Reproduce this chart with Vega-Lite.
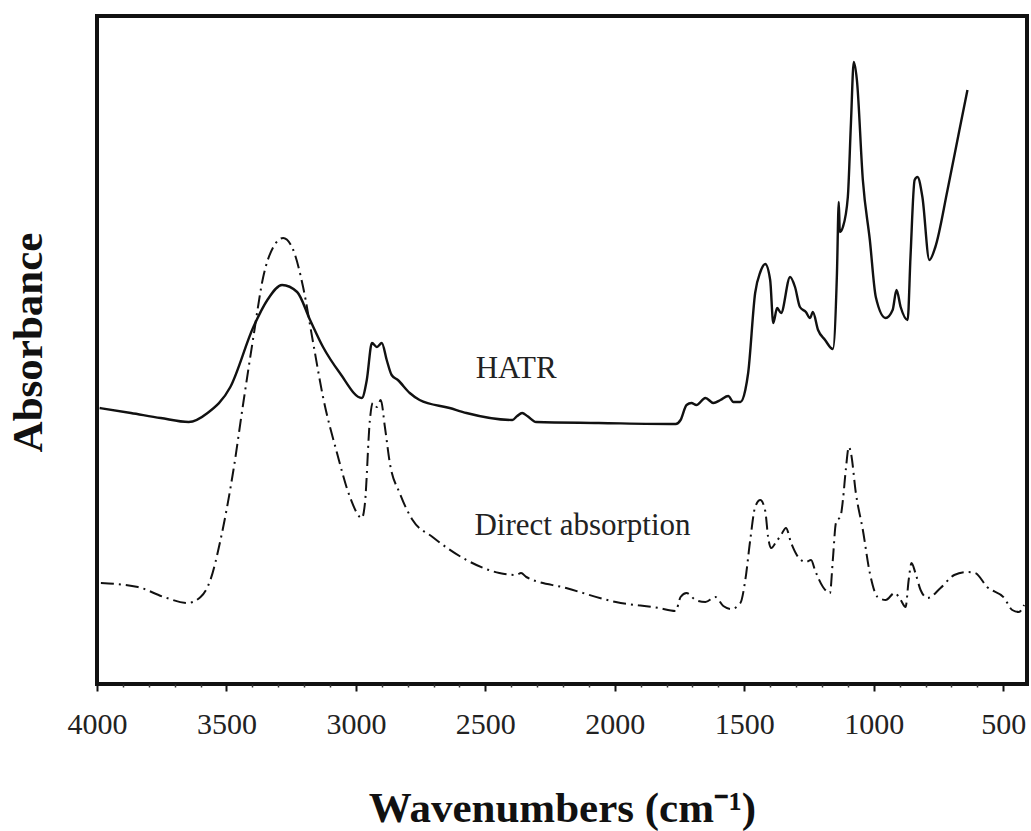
{
  "$schema": "https://vega.github.io/schema/vega-lite/v6.json",
  "width": 930,
  "height": 668,
  "autosize": {"type": "none"},
  "padding": {"left": 97, "top": 16, "right": 4, "bottom": 147},
  "background": "white",
  "config": {
    "view": {"stroke": "#111", "strokeWidth": 4},
    "font": "Liberation Serif"
  },
  "resolve": {"axis": {"x": "independent"}},
  "datasets": {
    "hatr": [
      {"wn": 3990, "a": 276}, {"wn": 3869, "a": 271}, {"wn": 3754, "a": 266}, {"wn": 3646, "a": 262},
      {"wn": 3573, "a": 271}, {"wn": 3485, "a": 297}, {"wn": 3396, "a": 357}, {"wn": 3342, "a": 384},
      {"wn": 3285, "a": 399}, {"wn": 3227, "a": 392}, {"wn": 3177, "a": 364}, {"wn": 3127, "a": 337},
      {"wn": 3062, "a": 311}, {"wn": 2977, "a": 286}, {"wn": 2958, "a": 304}, {"wn": 2938, "a": 341},
      {"wn": 2919, "a": 337}, {"wn": 2900, "a": 341}, {"wn": 2881, "a": 324}, {"wn": 2862, "a": 309},
      {"wn": 2838, "a": 304}, {"wn": 2792, "a": 291}, {"wn": 2754, "a": 284}, {"wn": 2638, "a": 276},
      {"wn": 2573, "a": 271}, {"wn": 2396, "a": 264}, {"wn": 2377, "a": 268}, {"wn": 2358, "a": 271},
      {"wn": 2338, "a": 268}, {"wn": 2304, "a": 262}, {"wn": 2062, "a": 261}, {"wn": 1765, "a": 260},
      {"wn": 1746, "a": 264}, {"wn": 1723, "a": 279}, {"wn": 1704, "a": 281}, {"wn": 1685, "a": 279},
      {"wn": 1650, "a": 286}, {"wn": 1619, "a": 281}, {"wn": 1592, "a": 284}, {"wn": 1562, "a": 288},
      {"wn": 1542, "a": 282}, {"wn": 1515, "a": 282}, {"wn": 1496, "a": 294}, {"wn": 1485, "a": 311},
      {"wn": 1458, "a": 391}, {"wn": 1438, "a": 412}, {"wn": 1419, "a": 420}, {"wn": 1400, "a": 404},
      {"wn": 1388, "a": 361}, {"wn": 1373, "a": 376}, {"wn": 1358, "a": 371}, {"wn": 1323, "a": 407},
      {"wn": 1304, "a": 397}, {"wn": 1285, "a": 377}, {"wn": 1262, "a": 372}, {"wn": 1246, "a": 366},
      {"wn": 1235, "a": 372}, {"wn": 1215, "a": 354}, {"wn": 1188, "a": 344}, {"wn": 1158, "a": 335},
      {"wn": 1142, "a": 411}, {"wn": 1135, "a": 482}, {"wn": 1131, "a": 452}, {"wn": 1119, "a": 457},
      {"wn": 1100, "a": 487}, {"wn": 1088, "a": 561}, {"wn": 1077, "a": 622}, {"wn": 1065, "a": 604},
      {"wn": 1042, "a": 504}, {"wn": 1015, "a": 444}, {"wn": 992, "a": 387}, {"wn": 954, "a": 366},
      {"wn": 927, "a": 374}, {"wn": 912, "a": 394}, {"wn": 896, "a": 377}, {"wn": 869, "a": 364},
      {"wn": 858, "a": 427}, {"wn": 842, "a": 504}, {"wn": 831, "a": 507}, {"wn": 812, "a": 487},
      {"wn": 785, "a": 424}, {"wn": 762, "a": 437}, {"wn": 715, "a": 494}, {"wn": 669, "a": 554},
      {"wn": 638, "a": 594}
    ],
    "direct": [
      {"wn": 3985, "a": 101}, {"wn": 3842, "a": 97}, {"wn": 3742, "a": 87}, {"wn": 3650, "a": 81},
      {"wn": 3600, "a": 87}, {"wn": 3562, "a": 104}, {"wn": 3523, "a": 144}, {"wn": 3473, "a": 214},
      {"wn": 3435, "a": 281}, {"wn": 3396, "a": 347}, {"wn": 3358, "a": 407}, {"wn": 3319, "a": 437},
      {"wn": 3281, "a": 446}, {"wn": 3242, "a": 434}, {"wn": 3204, "a": 397}, {"wn": 3165, "a": 341},
      {"wn": 3127, "a": 287}, {"wn": 3073, "a": 231}, {"wn": 3023, "a": 187}, {"wn": 2977, "a": 166},
      {"wn": 2965, "a": 181}, {"wn": 2946, "a": 264}, {"wn": 2935, "a": 281}, {"wn": 2919, "a": 277},
      {"wn": 2904, "a": 284}, {"wn": 2888, "a": 257}, {"wn": 2869, "a": 221}, {"wn": 2831, "a": 191},
      {"wn": 2781, "a": 164}, {"wn": 2704, "a": 147}, {"wn": 2573, "a": 124}, {"wn": 2446, "a": 111},
      {"wn": 2381, "a": 109}, {"wn": 2362, "a": 111}, {"wn": 2342, "a": 107}, {"wn": 2188, "a": 96},
      {"wn": 1996, "a": 82}, {"wn": 1831, "a": 76}, {"wn": 1765, "a": 73}, {"wn": 1746, "a": 87},
      {"wn": 1723, "a": 91}, {"wn": 1688, "a": 84}, {"wn": 1650, "a": 82}, {"wn": 1612, "a": 87},
      {"wn": 1581, "a": 78}, {"wn": 1550, "a": 75}, {"wn": 1515, "a": 81}, {"wn": 1496, "a": 104},
      {"wn": 1477, "a": 144}, {"wn": 1458, "a": 177}, {"wn": 1438, "a": 184}, {"wn": 1419, "a": 173},
      {"wn": 1408, "a": 147}, {"wn": 1396, "a": 136}, {"wn": 1377, "a": 142}, {"wn": 1358, "a": 149},
      {"wn": 1339, "a": 156}, {"wn": 1319, "a": 141}, {"wn": 1292, "a": 127}, {"wn": 1262, "a": 122},
      {"wn": 1242, "a": 124}, {"wn": 1227, "a": 114}, {"wn": 1196, "a": 97}, {"wn": 1169, "a": 91},
      {"wn": 1158, "a": 124}, {"wn": 1146, "a": 161}, {"wn": 1127, "a": 169}, {"wn": 1119, "a": 184},
      {"wn": 1108, "a": 214}, {"wn": 1096, "a": 237}, {"wn": 1088, "a": 231}, {"wn": 1069, "a": 191},
      {"wn": 1042, "a": 154}, {"wn": 1015, "a": 111}, {"wn": 985, "a": 87}, {"wn": 954, "a": 84},
      {"wn": 919, "a": 91}, {"wn": 896, "a": 84}, {"wn": 877, "a": 77}, {"wn": 865, "a": 104},
      {"wn": 854, "a": 121}, {"wn": 839, "a": 111}, {"wn": 819, "a": 94}, {"wn": 792, "a": 86},
      {"wn": 742, "a": 96}, {"wn": 689, "a": 109}, {"wn": 638, "a": 112}, {"wn": 608, "a": 111},
      {"wn": 562, "a": 97}, {"wn": 496, "a": 86}, {"wn": 465, "a": 74}, {"wn": 439, "a": 72},
      {"wn": 419, "a": 79}
    ],
    "notes": [
      {"wn": 2381, "a": 306, "label": "HATR"},
      {"wn": 2125, "a": 149, "label": "Direct absorption"}
    ]
  },
  "layer": [
    {
      "data": {"name": "hatr"},
      "mark": {"type": "line", "color": "#111", "strokeWidth": 2.4, "interpolate": "monotone"},
      "encoding": {
        "x": {
          "field": "wn", "type": "quantitative",
          "scale": {"domain": [408, 4000], "reverse": true, "nice": false, "zero": false},
          "axis": {
            "orient": "bottom",
            "values": [4000, 3500, 3000, 2500, 2000, 1500, 1000, 500],
            "format": "d",
            "labelFont": "Liberation Serif",
            "labelFontSize": 30,
            "labelColor": "#222",
            "labelPadding": 18,
            "labelFlush": false,
            "labelOverlap": false,
            "tickColor": "#111",
            "tickWidth": 2,
            "tickSize": 7,
            "domain": false,
            "grid": false,
            "title": "Wavenumbers (cm⁻¹)",
            "titleFont": "Liberation Serif",
            "titleFontSize": 43,
            "titleFontWeight": "bold",
            "titleColor": "#111",
            "titleBaseline": "alphabetic",
            "titleY": 137
          }
        },
        "y": {
          "field": "a", "type": "quantitative",
          "scale": {"domain": [0, 668], "nice": false, "zero": false},
          "axis": {
            "title": "Absorbance",
            "labels": false,
            "ticks": false,
            "domain": false,
            "grid": false,
            "titleFont": "Liberation Serif",
            "titleFontSize": 43,
            "titleFontWeight": "bold",
            "titleColor": "#111",
            "titlePadding": 47,
            "titleY": 326
          }
        }
      }
    },
    {
      "data": {"name": "direct"},
      "mark": {"type": "line", "color": "#111", "strokeWidth": 2, "strokeDash": [13, 5, 2, 5], "interpolate": "monotone"},
      "encoding": {
        "x": {
          "field": "wn", "type": "quantitative",
          "axis": {
            "orient": "bottom",
            "values": [3900, 3800, 3700, 3600, 3400, 3300, 3200, 3100, 2900, 2800, 2700, 2600, 2400, 2300, 2200, 2100, 1900, 1800, 1700, 1600, 1400, 1300, 1200, 1100, 900, 800, 700, 600],
            "labels": false,
            "tickSize": 3,
            "tickWidth": 1.5,
            "tickColor": "#333",
            "domain": false,
            "grid": false,
            "title": null
          }
        },
        "y": {"field": "a", "type": "quantitative"}
      }
    },
    {
      "data": {"name": "notes"},
      "mark": {"type": "text", "font": "Liberation Serif", "fontSize": 31, "color": "#222", "baseline": "alphabetic", "align": "center"},
      "encoding": {
        "x": {"field": "wn", "type": "quantitative", "axis": null},
        "y": {"field": "a", "type": "quantitative"},
        "text": {"field": "label"}
      }
    }
  ]
}
